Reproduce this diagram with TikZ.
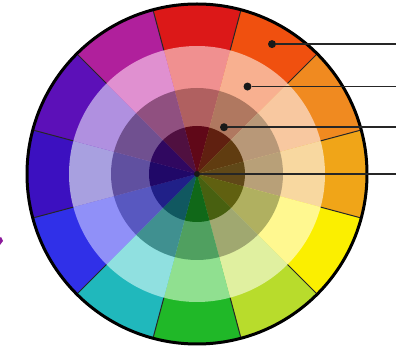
\documentclass[tikz,border=0pt]{standalone}
\usetikzlibrary{positioning}
% pure hues
\definecolor{wred}{HTML}{DC1818}
\definecolor{wredorange}{HTML}{F0500F}
\definecolor{worange}{HTML}{F08A20}
\definecolor{wamber}{HTML}{F0A518}
\definecolor{wyellow}{HTML}{FBEF00}
\definecolor{wlime}{HTML}{B8DC2C}
\definecolor{wgreen}{HTML}{20B828}
\definecolor{wteal}{HTML}{20B8BC}
\definecolor{wblue}{HTML}{3030E8}
\definecolor{windigo}{HTML}{3C10C0}
\definecolor{wviolet}{HTML}{5C10B8}
\definecolor{wmagenta}{HTML}{B0209C}
% tints
\definecolor{wredtint}{HTML}{F09090}
\definecolor{wredorangetint}{HTML}{F8B090}
\definecolor{worangetint}{HTML}{F8C8A0}
\definecolor{wambertint}{HTML}{F8D8A0}
\definecolor{wyellowtint}{HTML}{FFF890}
\definecolor{wlimetint}{HTML}{E0F0A0}
\definecolor{wgreentint}{HTML}{90E090}
\definecolor{wtealtint}{HTML}{90E0E0}
\definecolor{wbluetint}{HTML}{9090F8}
\definecolor{windigotint}{HTML}{A8A0E0}
\definecolor{wviolettint}{HTML}{B090E0}
\definecolor{wmagentatint}{HTML}{E090D0}
% tones
\definecolor{wredtone}{HTML}{B06060}
\definecolor{wredorangetone}{HTML}{B07860}
\definecolor{worangetone}{HTML}{B89878}
\definecolor{wambertone}{HTML}{B8A078}
\definecolor{wyellowtone}{HTML}{B0B060}
\definecolor{wlimetone}{HTML}{A0A870}
\definecolor{wgreentone}{HTML}{50A060}
\definecolor{wtealtone}{HTML}{409090}
\definecolor{wbluetone}{HTML}{5858C0}
\definecolor{windigotone}{HTML}{6050A0}
\definecolor{wviolettone}{HTML}{705090}
\definecolor{wmagentatone}{HTML}{905080}
% shades
\definecolor{wredshade}{HTML}{600818}
\definecolor{wredorangeshade}{HTML}{602010}
\definecolor{worangeshade}{HTML}{603C10}
\definecolor{wambershade}{HTML}{604818}
\definecolor{wyellowshade}{HTML}{606010}
\definecolor{wlimeshade}{HTML}{486010}
\definecolor{wgreenshade}{HTML}{106818}
\definecolor{wtealshade}{HTML}{105860}
\definecolor{wblueshade}{HTML}{202088}
\definecolor{windigoshade}{HTML}{200868}
\definecolor{wvioletshade}{HTML}{300860}
\definecolor{wmagentashade}{HTML}{501040}
\definecolor{markpurple}{HTML}{8B1A9B}

\begin{document}
\begin{tikzpicture}[x=1pt, y=1pt, dot/.style={circle, fill=black!90, inner sep=0pt, minimum size=8pt}]
    \useasboundingbox (0,0) rectangle (396,353);
    \coordinate (centre) at (197,179);
    \coordinate (rightedge) at (396,0);

    % rings, from the outside in
    \foreach \r/\kind in {170/, 128/tint, 86/tone, 48/shade}
      \foreach \ang/\hue in {90/red, 60/redorange, 30/orange, 0/amber, -30/yellow, -60/lime,
                             -90/green, -120/teal, -150/blue, 180/indigo, 150/violet, 120/magenta}
        \fill[w\hue\kind] (centre) -- ++(\ang-15:\r) arc[start angle=\ang-15, delta angle=30, radius=\r] -- cycle;

    % segment borders in the outer ring
    \foreach \ang in {15,45,...,345}
      \draw[line width=1pt, black!85] (centre) ++(\ang:128) -- ++(\ang:42);
    \draw[line width=3pt] (centre) circle[radius=170];

    \node[dot] (purehue) at ([shift={(60:150)}]centre) {};
    \node[dot] (tint) at ([shift={(60:101)}]centre) {};
    \node[dot] (tone) at ([shift={(60:54)}]centre) {};
    \node[dot, minimum size=6pt] (shade) at (centre) {};

    \draw[line width=1.6pt, black!85] (purehue) -- (purehue -| rightedge);
    \draw[line width=1.6pt, black!85] (tint) -- (tint -| rightedge);
    \draw[line width=1.6pt, black!85] (tone) -- (tone -| rightedge);
    \draw[line width=1.6pt, black!85] (shade) -- (shade -| rightedge);

    \fill[markpurple] (0,108) -- (3,112) -- (1,116) -- (0,115) -- cycle;
\end{tikzpicture}
\end{document}
